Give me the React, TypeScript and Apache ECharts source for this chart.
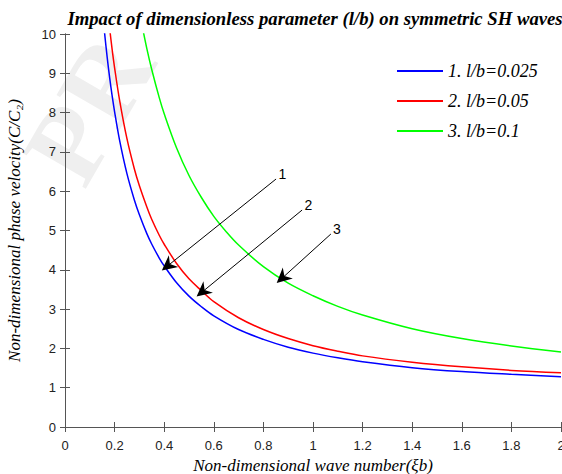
import React, { useEffect, useRef } from "react";
import * as echarts from "echarts";

const xTicks = [0, 0.2, 0.4, 0.6, 0.8, 1, 1.2, 1.4, 1.6, 1.8, 2];
const yTicks = [0, 1, 2, 3, 4, 5, 6, 7, 8, 9, 10];

const seriesNames = ["1. l/b=0.025", "2. l/b=0.05", "3. l/b=0.1"];
const seriesColors = ["#0000ff", "#ff0000", "#00ff00"];

const blueX = [0.158, 0.17, 0.18, 0.19, 0.2, 0.22, 0.25, 0.28, 0.3, 0.33, 0.35, 0.38, 0.4, 0.45, 0.5, 0.55, 0.6, 0.7, 0.8, 0.9, 1.0, 1.1, 1.2, 1.4, 1.6, 1.8, 2.0];
const blueY = [10.12, 9.41, 8.89, 8.43, 8.02, 7.3, 6.44, 5.77, 5.4, 4.92, 4.65, 4.3, 4.1, 3.67, 3.33, 3.06, 2.83, 2.48, 2.23, 2.03, 1.88, 1.76, 1.66, 1.51, 1.41, 1.34, 1.28];

const redX = [0.178, 0.19, 0.2, 0.22, 0.25, 0.28, 0.3, 0.33, 0.35, 0.38, 0.4, 0.45, 0.5, 0.55, 0.6, 0.7, 0.8, 0.9, 1.0, 1.1, 1.2, 1.4, 1.6, 1.8, 2.0];
const redY = [10.25, 9.61, 9.14, 8.32, 7.33, 6.56, 6.14, 5.6, 5.28, 4.88, 4.65, 4.16, 3.77, 3.47, 3.19, 2.78, 2.48, 2.25, 2.07, 1.93, 1.81, 1.65, 1.53, 1.44, 1.38];

const greenX = [0.312, 0.33, 0.35, 0.38, 0.4, 0.45, 0.5, 0.55, 0.6, 0.65, 0.7, 0.8, 0.9, 1.0, 1.1, 1.2, 1.4, 1.6, 1.8, 2.0];
const greenY = [10.18, 9.63, 9.09, 8.38, 7.97, 7.1, 6.4, 5.84, 5.36, 4.97, 4.63, 4.08, 3.66, 3.34, 3.07, 2.85, 2.5, 2.25, 2.06, 1.91];

// arrows: label, start point, tip point (data units)
const arrowLabels = ["1", "2", "3"];
const arrowStartX = [0.851, 0.956, 1.072];
const arrowStartY = [6.31, 5.52, 4.91];
const arrowTipX = [0.414, 0.554, 0.876];
const arrowTipY = [4.1, 3.44, 3.79];

const serif = "'Liberation Serif', 'Times New Roman', serif";
const sans = "'Liberation Sans', Arial, Helvetica, sans-serif";
const axisColor = "#555555";

export default function App() {
  const ref = useRef<HTMLDivElement>(null);
  useEffect(() => {
    document.body.style.margin = "0";
    if (!ref.current) return;
    const chart = echarts.init(ref.current, null, { renderer: "svg" });
    const xs = [blueX, redX, greenX];
    const ys = [blueY, redY, greenY];
    const lineSeries: any[] = seriesNames.map((n, i) => ({
      name: n,
      type: "line",
      data: xs[i].map((x, j) => [x, ys[i][j]]),
      showSymbol: false,
      symbol: "none",
      smooth: 0.35,
      clip: true,
      lineStyle: { color: seriesColors[i], width: 1.5 },
      itemStyle: { color: seriesColors[i] },
      z: 3,
    }));
    lineSeries.push({
      name: "arrows",
      type: "line",
      data: [],
      markLine: {
        silent: true,
        animation: false,
        symbol: ["none", "path://M5,0 L10,13 L5,9 L0,13 Z"],
        symbolSize: 15,
        lineStyle: { color: "#000", width: 1, type: "solid" },
        itemStyle: { color: "#000" },
        label: {
          show: true,
          position: "start",
          distance: 8,
          color: "#000",
          fontFamily: sans,
          fontSize: 14,
          formatter: (p: any) => p.name,
        },
        data: arrowLabels.map((l, i) => [
          { name: l, coord: [arrowStartX[i], arrowStartY[i]] },
          { coord: [arrowTipX[i], arrowTipY[i]] },
        ]),
      },
      z: 4,
    });
    const tickStyle = { show: true, inside: true, length: 5, lineStyle: { color: axisColor } };
    chart.setOption({
      animation: false,
      grid: { left: 65, right: 1, top: 34, bottom: 47, containLabel: false, outerBoundsMode: "none" },
      graphic: [
        {
          type: "text",
          z: 0,
          x: 100,
          y: 200,
          rotation: Math.PI / 3,
          silent: true,
          style: {
            text: "PR",
            fontSize: 110,
            fontWeight: "bold",
            fontFamily: serif,
            fill: "#efefef",
            textAlign: "left",
            textVerticalAlign: "bottom",
          },
        },
        {
          type: "text",
          x: 315,
          y: 18,
          z: 10,
          style: {
            text: "Impact of dimensionless parameter (l/b) on symmetric SH waves",
            fontFamily: serif,
            fontStyle: "italic",
            fontWeight: "bold",
            fontSize: 18.7,
            fill: "#000",
            textAlign: "center",
            textVerticalAlign: "middle",
          },
        },
      ],
      legend: {
        data: seriesNames,
        orient: "vertical",
        left: 397,
        top: 62,
        padding: 0,
        itemWidth: 46,
        itemHeight: 2,
        itemGap: 12,
        icon: "rect",
        textStyle: { fontFamily: serif, fontStyle: "italic", fontSize: 18, color: "#000" },
      },
      xAxis: [
        {
          type: "value",
          min: 0,
          max: 2,
          interval: 0.2,
          position: "bottom",
          name: "Non-dimensional wave number(ξb)",
          nameLocation: "middle",
          nameGap: 30,
          nameTextStyle: { fontFamily: serif, fontStyle: "italic", fontSize: 17, color: "#000" },
          axisLine: { show: true, lineStyle: { color: axisColor, width: 1 } },
          axisTick: tickStyle,
          splitLine: { show: false },
          axisLabel: {
            fontFamily: sans,
            fontSize: 13,
            color: "#222",
            margin: 12,
            formatter: (v: number) => String(Math.round(v * 10) / 10),
          },
        },
        {
          type: "value",
          min: 0,
          max: 2,
          interval: 0.2,
          position: "top",
          axisLine: { show: true, lineStyle: { color: axisColor, width: 1 } },
          axisTick: tickStyle,
          axisLabel: { show: false },
          splitLine: { show: false },
        },
      ],
      yAxis: [
        {
          type: "value",
          min: 0,
          max: 10,
          interval: 1,
          position: "left",
          name: "Non-dimensional phase velocity(C/C₂)",
          nameLocation: "middle",
          nameGap: 42,
          nameTextStyle: { fontFamily: serif, fontStyle: "italic", fontSize: 17, color: "#000" },
          axisLine: { show: true, lineStyle: { color: axisColor, width: 1 } },
          axisTick: tickStyle,
          splitLine: { show: false },
          axisLabel: { fontFamily: sans, fontSize: 13, color: "#222", margin: 9 },
        },
        {
          type: "value",
          min: 0,
          max: 10,
          interval: 1,
          position: "right",
          axisLine: { show: true, lineStyle: { color: axisColor, width: 1 } },
          axisTick: tickStyle,
          axisLabel: { show: false },
          splitLine: { show: false },
        },
      ],
      series: lineSeries,
    });
    return () => chart.dispose();
  }, []);
  return <div ref={ref} style={{ width: 562, height: 474 }} />;
}
